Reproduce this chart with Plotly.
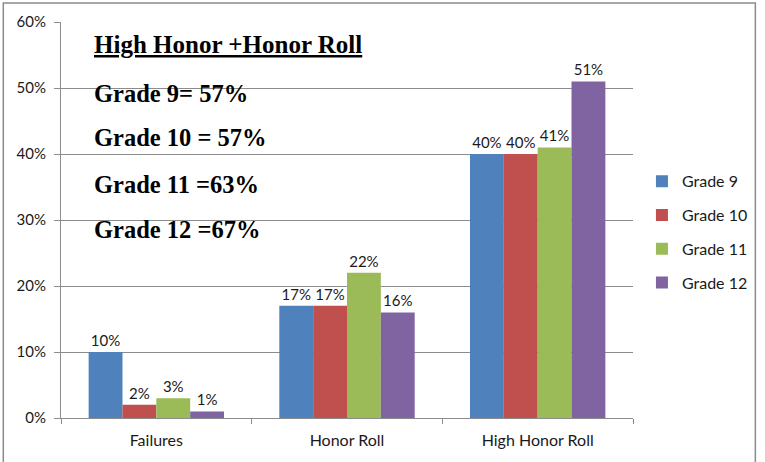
import plotly.graph_objects as go

categories = ["Failures", "Honor Roll", "High Honor Roll"]
grade9 = [10, 17, 40]
grade10 = [2, 17, 40]
grade11 = [3, 22, 41]
grade12 = [1, 16, 51]
series_names = ["Grade 9", "Grade 10", "Grade 11", "Grade 12"]
colors = ["#4F81BD", "#C0504D", "#9BBB59", "#8064A2"]
y_ticks = [0, 10, 20, 30, 40, 50, 60]
y_tick_labels = ["0%", "10%", "20%", "30%", "40%", "50%", "60%"]
heading = "High Honor +Honor Roll"
notes = ["Grade 9= 57%", "Grade 10 = 57%", "Grade 11 =63%", "Grade 12 =67%"]
heading_y = 56.6
note_y = [49.2, 42.56, 35.32, 28.54]

W, H = 765, 462
L, R, T, B = 61, 129, 20, 44
pw, ph = W - L - R, H - T - B
sans = "Lato, Carlito, sans-serif"
serif = "Liberation Serif, Times New Roman, serif"

fig = go.Figure()
for i, (name, vals) in enumerate(zip(series_names, [grade9, grade10, grade11, grade12])):
    fig.add_trace(go.Bar(
        x=categories, y=vals, name=name, marker=dict(color=colors[i], line=dict(width=0)),
        text=[f"{v}%" for v in vals], textposition="outside", cliponaxis=False,
        textfont=dict(family=sans, size=15, color="#1a1a1a"),
        legendgroup=name,
    ))

fig.update_layout(
    width=W, height=H,
    margin=dict(l=L, r=R, t=T, b=B),
    paper_bgcolor="white", plot_bgcolor="white",
    barmode="group", bargap=0.29, bargroupgap=0,
    font=dict(family=sans, size=15, color="#1a1a1a"),
    showlegend=True,
    legend=dict(x=(645 - L) / pw, y=(H - 163 - B) / ph, xanchor="left", yanchor="top",
                traceorder="grouped", tracegroupgap=10,
                font=dict(family=sans, size=16, color="#1a1a1a"), bgcolor="rgba(0,0,0,0)"),
)
fig.update_yaxes(range=[0, 60], tickvals=y_ticks, ticktext=y_tick_labels,
                 showgrid=True, gridcolor="#8C8C8C", gridwidth=1,
                 showline=True, linecolor="#8C8C8C", linewidth=1,
                 ticks="outside", ticklen=6, tickcolor="#8C8C8C", ticklabelstandoff=5,
                 tickfont=dict(family=sans, size=15, color="#1a1a1a"), zeroline=False)
fig.update_xaxes(showline=True, linecolor="#8C8C8C", linewidth=1,
                 ticks="outside", tickson="boundaries", ticklen=5, tickcolor="#8C8C8C",
                 ticklabelstandoff=8,
                 tickfont=dict(family=sans, size=16, color="#1a1a1a"), showgrid=False)

# Outer chart border
fig.add_shape(type="rect", xref="paper", yref="paper",
              x0=(3 - L) / pw, x1=(759 - L) / pw,
              y0=(H - 463 - B) / ph, y1=(H - 1 - B) / ph,
              line=dict(color="#8C8C8C", width=1.5), fillcolor="rgba(0,0,0,0)", layer="above")

fig.add_annotation(xref="paper", yref="y", x=(92 - L) / pw, y=heading_y, xanchor="left", yanchor="middle",
                   text=f"<u>{heading}</u>", showarrow=False,
                   font=dict(family=serif, size=25, color="#000000", weight="bold"))
for t, yv in zip(notes, note_y):
    fig.add_annotation(xref="paper", yref="y", x=(92 - L) / pw, y=yv, xanchor="left", yanchor="middle",
                       text=t, showarrow=False,
                       font=dict(family=serif, size=24.5, color="#000000", weight="bold"))

fig.write_html("out.html", post_script="document.body.style.margin='0';",
               config={"displayModeBar": False})
